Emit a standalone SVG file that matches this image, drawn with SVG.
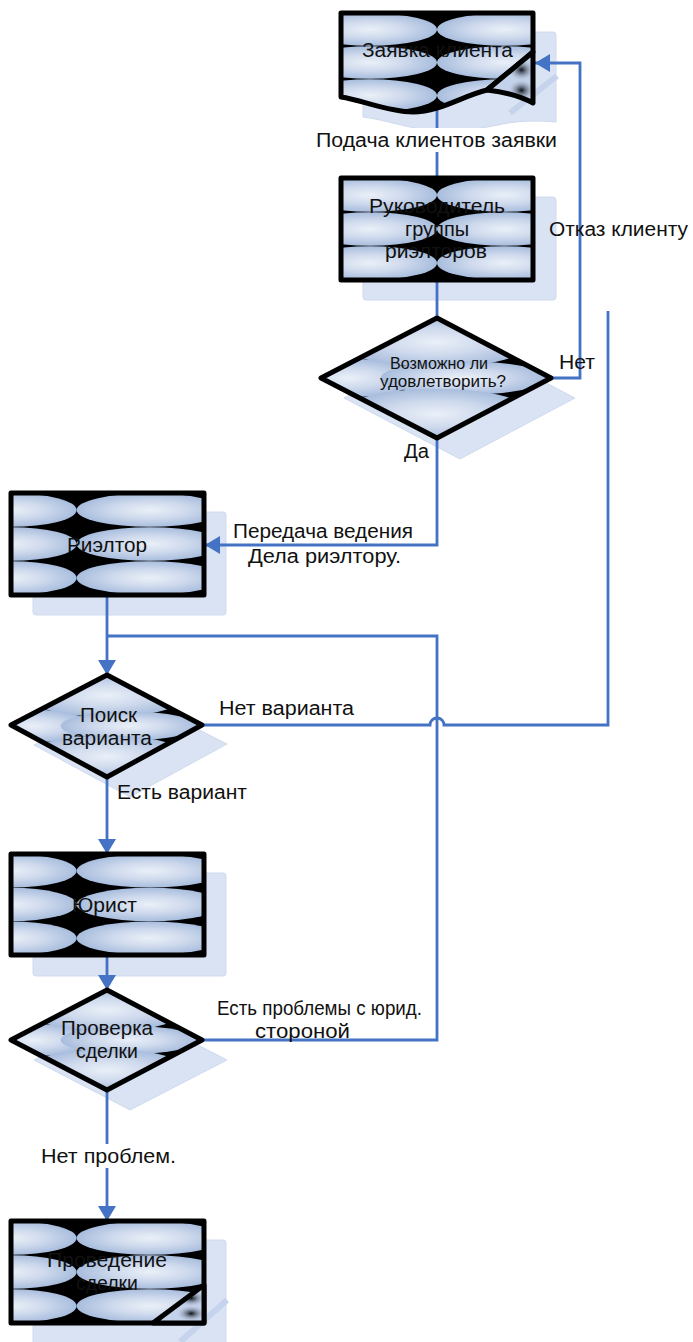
<svg xmlns="http://www.w3.org/2000/svg" width="693" height="1342" viewBox="0 0 693 1342">
  <style>
    text { font-family: "Liberation Sans", Arial, sans-serif; fill: #111; font-size: 20px; }
    .mid { text-anchor: middle; }
    .small { font-size: 16px; }
    .shadow { fill: #dae3f3; stroke: #cfdaee; stroke-width: 1; }
    .stripe { stroke: #c5d3ec; stroke-width: 6; fill: none; }
    .box { stroke: #000; stroke-width: 5; stroke-linejoin: round; }
    .edge { fill: none; stroke: #4472c4; stroke-width: 2.8; }
    .arrow { marker-end: url(#arr); }
    .bg { fill: #fff; }
  </style>
  <defs>
    <radialGradient id="blob" cx="0.5" cy="0.5" r="0.5">
      <stop offset="0" stop-color="#eaf0f8"/>
      <stop offset="0.5" stop-color="#cfdaed"/>
      <stop offset="1" stop-color="#a8bddd"/>
    </radialGradient>
    <radialGradient id="dark" cx="0.5" cy="0.5" r="0.5">
      <stop offset="0" stop-color="#0d1118"/>
      <stop offset="1" stop-color="#c3d1ea" stop-opacity="0"/>
    </radialGradient>
    <!-- cell fill, seam in the middle -->
    <pattern id="fillMid" width="1" height="1" patternContentUnits="objectBoundingBox">
      <rect width="1" height="1" fill="#000"/>
      <ellipse cx="0.15" cy="0.167" rx="0.35" ry="0.165" fill="url(#blob)"/>
      <ellipse cx="0.85" cy="0.167" rx="0.35" ry="0.165" fill="url(#blob)"/>
      <ellipse cx="0.15" cy="0.5" rx="0.35" ry="0.165" fill="url(#blob)"/>
      <ellipse cx="0.85" cy="0.5" rx="0.35" ry="0.165" fill="url(#blob)"/>
      <ellipse cx="0.15" cy="0.833" rx="0.35" ry="0.165" fill="url(#blob)"/>
      <ellipse cx="0.85" cy="0.833" rx="0.35" ry="0.165" fill="url(#blob)"/>
    </pattern>
    <!-- cell fill, seam left of centre -->
    <pattern id="fillLeft" width="1" height="1" patternContentUnits="objectBoundingBox">
      <rect width="1" height="1" fill="#000"/>
      <ellipse cx="0.0" cy="0.167" rx="0.34" ry="0.165" fill="url(#blob)"/>
      <ellipse cx="0.72" cy="0.167" rx="0.38" ry="0.165" fill="url(#blob)"/>
      <ellipse cx="0.0" cy="0.5" rx="0.34" ry="0.165" fill="url(#blob)"/>
      <ellipse cx="0.72" cy="0.5" rx="0.38" ry="0.165" fill="url(#blob)"/>
      <ellipse cx="0.0" cy="0.833" rx="0.34" ry="0.165" fill="url(#blob)"/>
      <ellipse cx="0.72" cy="0.833" rx="0.38" ry="0.165" fill="url(#blob)"/>
    </pattern>
    <!-- decision fill -->
    <pattern id="fillDia" width="1" height="1" patternContentUnits="objectBoundingBox">
      <rect width="1" height="1" fill="#000"/>
      <ellipse cx="0.5" cy="0.2" rx="0.42" ry="0.21" fill="url(#blob)"/>
      <ellipse cx="0.12" cy="0.5" rx="0.3" ry="0.16" fill="url(#blob)"/>
      <ellipse cx="0.62" cy="0.5" rx="0.36" ry="0.14" fill="url(#blob)"/>
      <ellipse cx="0.5" cy="0.8" rx="0.42" ry="0.21" fill="url(#blob)"/>
    </pattern>
    <!-- turned-page corner -->
    <pattern id="fillFlap" width="1" height="1" patternContentUnits="objectBoundingBox">
      <rect width="1" height="1" fill="#c3d1ea"/>
      <ellipse cx="0.75" cy="0.35" rx="0.3" ry="0.22" fill="url(#dark)"/>
      <ellipse cx="0.75" cy="0.75" rx="0.3" ry="0.22" fill="url(#dark)"/>
    </pattern>
    <marker id="arr" viewBox="0 0 15 18" refX="15" refY="9" markerWidth="15" markerHeight="18" markerUnits="userSpaceOnUse" orient="auto">
      <path d="M0,0 L15,9 L0,18 Z" fill="#4472c4"/>
    </marker>
  </defs>

  <rect width="693" height="1342" fill="#fff"/>

  <!-- drop shadows sit underneath the connectors -->
  <g id="shadows">
    <path class="shadow" d="M363,32 H553 Q556,32 556,35 V122 C535,120 515,121 498,125 C470,131 440,133 420,129 C398,125 380,119 363,117 Z"/>
    <path class="stripe" d="M557,76 L510,113"/>
    <rect class="shadow" x="363" y="197" width="193" height="103" rx="3"/>
    <polygon class="shadow" points="460,338 575,398 460,459 344,398"/>
    <rect class="shadow" x="33" y="512" width="193" height="103" rx="3"/>
    <polygon class="shadow" points="130,695 227,744 130,797 34,745"/>
    <rect class="shadow" x="33" y="873" width="193" height="103" rx="3"/>
    <polygon class="shadow" points="130,1010 227,1060 130,1110 34,1060"/>
    <rect class="shadow" x="33" y="1240" width="193" height="110" rx="3"/>
    <path class="stripe" d="M227,1300 L180,1342"/>
  </g>

  <!-- connectors -->
  <g id="connectors">
    <path class="edge" d="M437,106 V178"/>
    <path class="edge" d="M437,280 V318"/>
    <path class="edge arrow" d="M551,378 H580 V63 H535"/>
    <path class="edge arrow" d="M437,438 V545 H205"/>
    <path class="edge arrow" d="M107,595 V675"/>
    <path class="edge" d="M202,1040 H437 V636 H107"/>
    <path class="edge" d="M202,725 H430 A7,7 0 0 1 444,725 H608 V311"/>
    <path class="edge arrow" d="M107,777 V854"/>
    <path class="edge arrow" d="M107,955 V990"/>
    <path class="edge arrow" d="M107,1090 V1221"/>
  </g>

  <!-- connector labels -->
  <g id="labels">
    <rect class="bg" x="314" y="128" width="245" height="24"/>
    <text x="316" y="147" textLength="241" lengthAdjust="spacingAndGlyphs">Подача клиентов заявки</text>
    <text x="549" y="236" textLength="139" lengthAdjust="spacingAndGlyphs">Отказ клиенту</text>
    <text x="559" y="369" textLength="36" lengthAdjust="spacingAndGlyphs">Нет</text>
    <text x="404" y="458" textLength="25" lengthAdjust="spacingAndGlyphs">Да</text>
    <text x="233" y="538" textLength="180" lengthAdjust="spacingAndGlyphs">Передача ведения</text>
    <text x="248" y="563" textLength="153" lengthAdjust="spacingAndGlyphs">Дела риэлтору.</text>
    <text x="219" y="715" textLength="135" lengthAdjust="spacingAndGlyphs">Нет варианта</text>
    <text x="117" y="799" textLength="130" lengthAdjust="spacingAndGlyphs">Есть вариант</text>
    <text x="217" y="1015" textLength="205" lengthAdjust="spacingAndGlyphs">Есть проблемы с юрид.</text>
    <text x="255" y="1038" textLength="95" lengthAdjust="spacingAndGlyphs">стороной</text>
    <rect class="bg" x="39" y="1144" width="139" height="24"/>
    <text x="41" y="1163" textLength="135" lengthAdjust="spacingAndGlyphs">Нет проблем.</text>
  </g>

  <!-- client request (document) -->
  <g id="node-request">
    <path class="box" fill="url(#fillMid)" d="M341,13 H533 V52 L487,90 C462,96 440,112 413,112 C388,112 362,100 341,97 Z"/>
    <path class="box" fill="url(#fillFlap)" d="M533,52 L487,90 C505,92 520,96 533,103 Z"/>
    <text x="362" y="57" textLength="151" lengthAdjust="spacingAndGlyphs">Заявка клиента</text>
  </g>

  <!-- head of realtor group -->
  <g id="node-head">
    <rect class="box" fill="url(#fillMid)" x="341" y="178" width="192" height="102"/>
    <text x="369" y="213" textLength="136" lengthAdjust="spacingAndGlyphs">Руководитель</text>
    <text class="mid" x="437" y="236">группы</text>
    <text x="385" y="258" textLength="102" lengthAdjust="spacingAndGlyphs">риэлторов</text>
  </g>

  <!-- can the request be satisfied -->
  <g id="node-check-request">
    <polygon class="box" fill="url(#fillDia)" points="437,318 551,378 437,438 321,378"/>
    <text class="small" x="390" y="369" textLength="98" lengthAdjust="spacingAndGlyphs">Возможно ли</text>
    <text class="small" x="380" y="387" textLength="126" lengthAdjust="spacingAndGlyphs">удовлетворить?</text>
  </g>

  <!-- realtor -->
  <g id="node-realtor">
    <rect class="box" fill="url(#fillLeft)" x="11" y="493" width="193" height="102"/>
    <text x="67" y="552" textLength="80" lengthAdjust="spacingAndGlyphs">Риэлтор</text>
  </g>

  <!-- search for an option -->
  <g id="node-search">
    <polygon class="box" fill="url(#fillDia)" points="107,675 202,725 107,777 11,725"/>
    <text x="80" y="722" textLength="57" lengthAdjust="spacingAndGlyphs">Поиск</text>
    <text x="62" y="745" textLength="90" lengthAdjust="spacingAndGlyphs">варианта</text>
  </g>

  <!-- lawyer -->
  <g id="node-lawyer">
    <rect class="box" fill="url(#fillLeft)" x="11" y="854" width="193" height="101"/>
    <text x="72" y="912" textLength="65" lengthAdjust="spacingAndGlyphs">Юрист</text>
  </g>

  <!-- deal check -->
  <g id="node-deal-check">
    <polygon class="box" fill="url(#fillDia)" points="107,990 202,1040 107,1090 11,1040"/>
    <text x="61" y="1035" textLength="92" lengthAdjust="spacingAndGlyphs">Проверка</text>
    <text x="76" y="1058" textLength="62" lengthAdjust="spacingAndGlyphs">сделки</text>
  </g>

  <!-- closing the deal -->
  <g id="node-deal">
    <rect class="box" fill="url(#fillLeft)" x="11" y="1221" width="193" height="102"/>
    <path class="box" fill="url(#fillFlap)" d="M204,1285 L153,1323 H204 Z"/>
    <text x="47" y="1267" textLength="120" lengthAdjust="spacingAndGlyphs">Проведение</text>
    <text x="76" y="1290" textLength="62" lengthAdjust="spacingAndGlyphs">сделки</text>
  </g>
</svg>
